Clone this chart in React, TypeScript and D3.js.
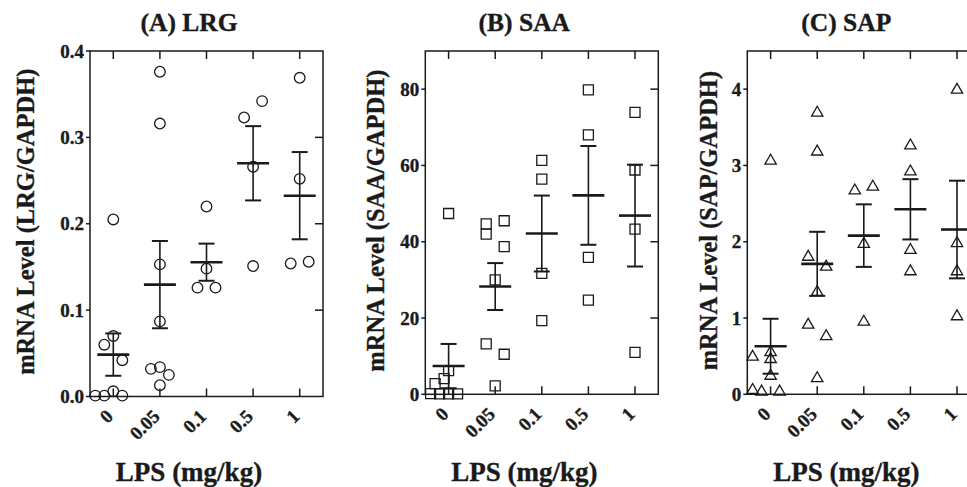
import React from "react";
import * as d3 from "d3";

// ---------- data ----------
const categories = ["0", "0.05", "0.1", "0.5", "1"];

// (A) LRG
const lrgValues = [
  [0.001, 0.001, 0.006, 0.001, 0.06, 0.07, 0.042, 0.205],
  [0.376, 0.316, 0.153, 0.087, 0.032, 0.034, 0.025, 0.013],
  [0.22, 0.148, 0.126, 0.126],
  [0.323, 0.342, 0.266, 0.151],
  [0.369, 0.252, 0.154, 0.156],
];
const lrgSlots = [
  [-2, -1, 0, 1, -1, 0, 1, 0],
  [0, 0, 0, 0, -1, 0, 1, 0],
  [0, 0, -1, 1],
  [-1, 1, 0, 0],
  [0, 0, -1, 1],
];
const lrgMeans = [0.0485, 0.1295, 0.1555, 0.27, 0.2325];
const lrgSems = [0.0245, 0.0505, 0.0215, 0.043, 0.0505];
const lrgTicks = [0, 0.1, 0.2, 0.3, 0.4];

// (B) SAA
const saaValues = [
  [47.4, 6.2, 4.1, 2.8, 0.2, 0.1, 0.1, 0.1],
  [44.7, 42.0, 45.5, 38.7, 30.0, 13.2, 10.5, 2.2],
  [61.3, 56.4, 31.7, 19.3],
  [79.8, 68.0, 35.9, 24.7],
  [73.9, 58.8, 43.3, 11.0],
];
const saaSlots = [
  [0, 0, -0.5, -1.5, -2, -1, 0, 1],
  [-1, -1, 1, 1, 0, -1, 1, 0],
  [0, 0, 0, 0],
  [0, 0, 0, 0],
  [0, 0, 0, 0],
];
const saaMeans = [7.4, 28.25, 42.15, 52.15, 46.85];
const saaSems = [5.8, 6.15, 9.95, 12.95, 13.35];
const saaTicks = [0, 20, 40, 60, 80];

// (C) SAP
const sapValues = [
  [3.06, 0.49, 0.55, 0.46, 0.24, 0.056, 0.034, 0.034],
  [3.69, 3.18, 1.8, 1.67, 1.34, 0.91, 0.76, 0.21],
  [2.67, 2.72, 1.97, 0.95],
  [3.26, 2.92, 1.89, 1.61],
  [3.99, 1.98, 1.61, 1.02],
];
const sapSlots = [
  [0, -2, 0, 0, 0, -2, -1, 1],
  [0, 0, -1, 1, 0, -1, 1, 0],
  [-1, 1, 0, 0],
  [0, 0, 0, 0],
  [0, 0, 0, 0],
];
const sapMeans = [0.63, 1.71, 2.08, 2.425, 2.16];
const sapSems = [0.36, 0.42, 0.41, 0.395, 0.64];
const sapTicks = [0, 1, 2, 3, 4];

// ---------- layout / style ----------
const W = 967;
const H = 487;
const FONT = "'Liberation Serif', 'Times New Roman', serif";
const INK = "#1a1a1a";
const TOP = 51;
const PLOT_W = 233;
const JITTER = 9;
const TEXT_STROKE = 0.35;

type Marker = "circle" | "square" | "triangle";

interface PanelCfg {
  title: string;
  yLabel: string;
  values: number[][];
  slots: number[][];
  means: number[];
  sems: number[];
  ticks: number[];
  fmt: (v: number) => string;
  yMax: number;
  left: number;
  bottom: number;
  yLabelX: number;
  marker: Marker;
}

const panels: PanelCfg[] = [
  {
    title: "(A) LRG",
    yLabel: "mRNA Level (LRG/GAPDH)",
    values: lrgValues,
    slots: lrgSlots,
    means: lrgMeans,
    sems: lrgSems,
    ticks: lrgTicks,
    fmt: d3.format(".1f"),
    yMax: 0.4,
    left: 90,
    bottom: 396.5,
    yLabelX: 25,
    marker: "circle",
  },
  {
    title: "(B) SAA",
    yLabel: "mRNA Level (SAA/GAPDH)",
    values: saaValues,
    slots: saaSlots,
    means: saaMeans,
    sems: saaSems,
    ticks: saaTicks,
    fmt: d3.format("d"),
    yMax: 90,
    left: 425.3,
    bottom: 394.3,
    yLabelX: 375,
    marker: "square",
  },
  {
    title: "(C) SAP",
    yLabel: "mRNA Level (SAP/GAPDH)",
    values: sapValues,
    slots: sapSlots,
    means: sapMeans,
    sems: sapSems,
    ticks: sapTicks,
    fmt: d3.format("d"),
    yMax: 4.5,
    left: 747.3,
    bottom: 394.3,
    yLabelX: 708,
    marker: "triangle",
  },
];

const squarePath = d3.symbol(d3.symbolSquare, 100)() as string;
const trianglePath = d3.symbol(d3.symbolTriangle, 56)() as string;

const textStyle = {
  fontFamily: FONT,
  fontWeight: "bold" as const,
  fill: INK,
  stroke: INK,
  strokeWidth: TEXT_STROKE,
};

function MarkerShape({ type, x, y }: { type: Marker; x: number; y: number }) {
  const common = { fill: "none", stroke: INK, strokeWidth: 1.3 };
  if (type === "circle") return <circle cx={x} cy={y} r={5.3} {...common} />;
  if (type === "square")
    return <path d={squarePath} transform={`translate(${x},${y})`} {...common} />;
  return <path d={trianglePath} transform={`translate(${x},${y})`} {...common} />;
}

function Panel({ cfg }: { cfg: PanelCfg }) {
  const left = cfg.left;
  const right = left + PLOT_W;
  const bottom = cfg.bottom;
  const x = d3.scalePoint<string>().domain(categories).range([left, right]).padding(0.5);
  const y = d3.scaleLinear().domain([0, cfg.yMax]).range([bottom, TOP]);
  const cx = left + 99;

  return (
    <g>
      {/* title */}
      <text x={cx} y={31} textAnchor="middle" fontSize={25.5} {...textStyle}>
        {cfg.title}
      </text>

      {/* frame */}
      <rect x={left} y={TOP} width={right - left} height={bottom - TOP} fill="none" stroke={INK} strokeWidth={1.5} />

      {/* x ticks (top & bottom, inward) and labels */}
      {categories.map((c) => {
        const px = x(c)!;
        return (
          <g key={c}>
            <line x1={px} x2={px} y1={TOP} y2={TOP + 8} stroke={INK} strokeWidth={1.5} />
            <line x1={px} x2={px} y1={bottom} y2={bottom - 8} stroke={INK} strokeWidth={1.5} />
            <text
              transform={`translate(${px + 1},${bottom + 21}) rotate(-45)`}
              textAnchor="end"
              fontSize={19}
              {...textStyle}
            >
              {c}
            </text>
          </g>
        );
      })}

      {/* y ticks and labels */}
      {cfg.ticks.map((t) => {
        const py = y(t);
        return (
          <g key={t}>
            <line x1={left - 4} x2={left} y1={py} y2={py} stroke={INK} strokeWidth={1.5} />
            {t !== 0 && t !== cfg.yMax && (
              <line x1={right - 8} x2={right} y1={py} y2={py} stroke={INK} strokeWidth={1.5} />
            )}
            <text x={left - 6} y={py} dy="0.35em" textAnchor="end" fontSize={19} {...textStyle}>
              {cfg.fmt(t)}
            </text>
          </g>
        );
      })}

      {/* y label */}
      <text
        transform={`translate(${cfg.yLabelX},${(TOP + bottom) / 2 - 2}) rotate(-90)`}
        dy="0.35em"
        textAnchor="middle"
        fontSize={24.5}
        {...textStyle}
      >
        {cfg.yLabel}
      </text>

      {/* x label */}
      <text x={cx} y={481} textAnchor="middle" fontSize={27} {...textStyle}>
        LPS (mg/kg)
      </text>

      {/* points */}
      {cfg.values.map((grp, gi) =>
        grp.map((v, i) => (
          <MarkerShape
            key={`${gi}-${i}`}
            type={cfg.marker}
            x={x(categories[gi])! + cfg.slots[gi][i] * JITTER}
            y={y(v)}
          />
        ))
      )}

      {/* mean ± SEM */}
      {cfg.means.map((m, gi) => {
        const px = x(categories[gi])!;
        const hi = y(m + cfg.sems[gi]);
        const lo = y(m - cfg.sems[gi]);
        return (
          <g key={`m${gi}`} stroke={INK}>
            <line x1={px} x2={px} y1={hi} y2={lo} strokeWidth={1.6} />
            <line x1={px - 8} x2={px + 8} y1={hi} y2={hi} strokeWidth={2} />
            <line x1={px - 8} x2={px + 8} y1={lo} y2={lo} strokeWidth={2} />
            <line x1={px - 16} x2={px + 16} y1={y(m)} y2={y(m)} strokeWidth={2.6} />
          </g>
        );
      })}
    </g>
  );
}

export default function App() {
  return (
    <svg
      width={W}
      height={H}
      viewBox={`0 0 ${W} ${H}`}
      style={{ position: "absolute", left: 0, top: 0, background: "#fff" }}
    >
      <rect x={0} y={0} width={W} height={H} fill="#fff" />
      {panels.map((p) => (
        <Panel key={p.title} cfg={p} />
      ))}
    </svg>
  );
}
